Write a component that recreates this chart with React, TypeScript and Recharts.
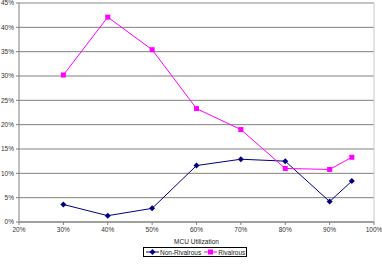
import React from 'react';
import { LineChart, Line, XAxis, YAxis, CartesianGrid, Legend, ReferenceLine } from 'recharts';

// MCU utilization (%) at each measured point
const utilization = [30, 40, 50, 60, 70, 80, 90, 95];
const nonRivalrous = [3.6, 1.3, 2.8, 11.6, 12.9, 12.5, 4.2, 8.4];
const rivalrous = [30.2, 42.1, 35.4, 23.3, 19.0, 11.0, 10.8, 13.3];

const xTicks = [20, 30, 40, 50, 60, 70, 80, 90, 100];
const yTicks = [0, 5, 10, 15, 20, 25, 30, 35, 40, 45];

const data = utilization.map((u, i) => ({
  util: u,
  'Non-Rivalrous': nonRivalrous[i],
  Rivalrous: rivalrous[i],
}));

const FONT = '"Liberation Sans", Arial, sans-serif';
const NAVY = '#000080';
const MAGENTA = '#ff00ff';

const DiamondDot = (props: any) => {
  const { cx, cy } = props;
  if (cx == null || cy == null) return null;
  const r = 3;
  return <path d={`M${cx},${cy - r}L${cx + r},${cy}L${cx},${cy + r}L${cx - r},${cy}Z`} fill={NAVY} />;
};

const SquareDot = (props: any) => {
  const { cx, cy } = props;
  if (cx == null || cy == null) return null;
  return <rect x={cx - 2.5} y={cy - 2.5} width={5} height={5} fill={MAGENTA} />;
};

const LegendBox = () => (
  <div
    style={{
      border: '1px solid #000',
      display: 'flex',
      alignItems: 'center',
      height: 8,
      padding: '0 1px 0 2px',
      fontFamily: FONT,
      fontSize: 6.5,
      color: '#222',
      background: '#fff',
    }}
  >
    <svg width={13} height={8}>
      <line x1={0} y1={4} x2={13} y2={4} stroke={NAVY} strokeWidth={1} />
      <path d="M6.5,1L9.5,4L6.5,7L3.5,4Z" fill={NAVY} />
    </svg>
    <span style={{ margin: '0 3px 0 1px' }}>Non-Rivalrous</span>
    <svg width={13} height={8}>
      <line x1={0} y1={4} x2={13} y2={4} stroke={MAGENTA} strokeWidth={1} />
      <rect x={4} y={1.5} width={5} height={5} fill={MAGENTA} />
    </svg>
    <span style={{ marginLeft: 1 }}>Rivalrous</span>
  </div>
);

export default function App() {
  const tick = { fontSize: 6.5, fontFamily: FONT, fill: '#333' };
  return (
    <div style={{ position: 'fixed', left: 0, top: 0, background: '#fff' }}>
      <LineChart width={382} height={265} data={data} margin={{ top: 3, right: 8, left: 0, bottom: 0 }}>
        <CartesianGrid vertical={false} stroke="#808080" />
        <XAxis
          dataKey="util"
          type="number"
          domain={[20, 100]}
          ticks={xTicks}
          tickFormatter={(v) => `${v}%`}
          tick={tick}
          tickSize={3}
          tickMargin={2}
          stroke="#808080"
          height={33}
          label={{ value: 'MCU Utilization', position: 'insideBottom', offset: 11, style: { fontSize: 6.5, fontFamily: FONT, fill: '#222' } }}
        />
        <YAxis
          type="number"
          domain={[0, 45]}
          ticks={yTicks}
          tickFormatter={(v) => `${v}%`}
          tick={tick}
          tickSize={3}
          tickMargin={2}
          stroke="#808080"
          width={19}
          interval={0}
        />
        <ReferenceLine y={45} stroke="#c8c8c8" />
        <ReferenceLine x={100} stroke="#c8c8c8" />
        <Legend
          content={<LegendBox />}
          wrapperStyle={{ left: 143, bottom: 8, width: 'auto' }}
        />
        <Line
          dataKey="Non-Rivalrous"
          stroke={NAVY}
          strokeWidth={1}
          dot={<DiamondDot />}
          activeDot={false}
          isAnimationActive={false}
        />
        <Line
          dataKey="Rivalrous"
          stroke={MAGENTA}
          strokeWidth={1}
          dot={<SquareDot />}
          activeDot={false}
          isAnimationActive={false}
        />
      </LineChart>
    </div>
  );
}
